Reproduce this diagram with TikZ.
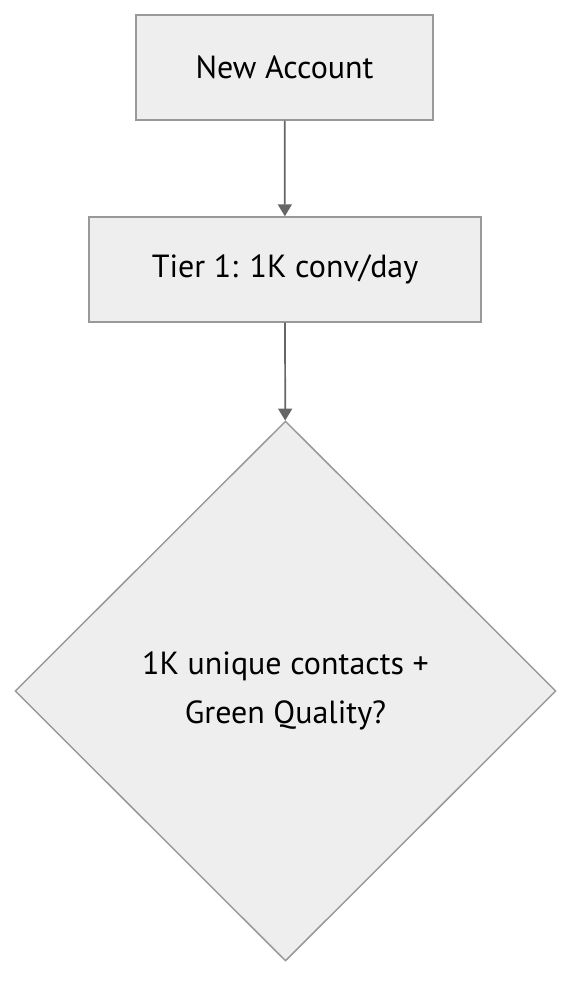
\documentclass[tikz,border=0pt]{standalone}
\usepackage{fontspec}
\setmainfont{PT Sans}
\usetikzlibrary{shapes.geometric,arrows.meta}
\definecolor{nodefill}{HTML}{EEEEEE}
\definecolor{nodeline}{HTML}{999999}
\definecolor{edgeline}{HTML}{666666}
\tikzset{
  px/.style={x=0.75pt,y=-0.75pt},
  stepbox/.style={draw=nodeline,fill=nodefill,line width=1.1pt,inner sep=0pt,font=\fontsize{24}{29}\selectfont},
  decision/.style={diamond,draw=nodeline,fill=nodefill,line width=1.1pt,inner sep=0pt,aspect=1,font=\fontsize{24}{36.5}\selectfont,align=center},
  flow/.style={draw=edgeline,line width=1.3pt,-{Triangle[width=10.5pt,length=9pt]}}
}
\begin{document}
\begin{tikzpicture}[px]
\useasboundingbox (0,0) rectangle (588,1004);
\node[stepbox,minimum width=297*0.75pt,minimum height=105*0.75pt] (a) at (284.5,67.5) {New Account};
\node[stepbox,minimum width=392*0.75pt,minimum height=105*0.75pt] (b) at (285,269.5) {Tier 1: 1K conv/day};
\node[decision,minimum width=541*0.75pt,minimum height=540*0.75pt] (c) at (285.5,691) {1K unique contacts +\ \\ Green Quality?};
\draw[flow] (a) -- (b);
\draw[flow] (b) -- (c);
\end{tikzpicture}
\end{document}
